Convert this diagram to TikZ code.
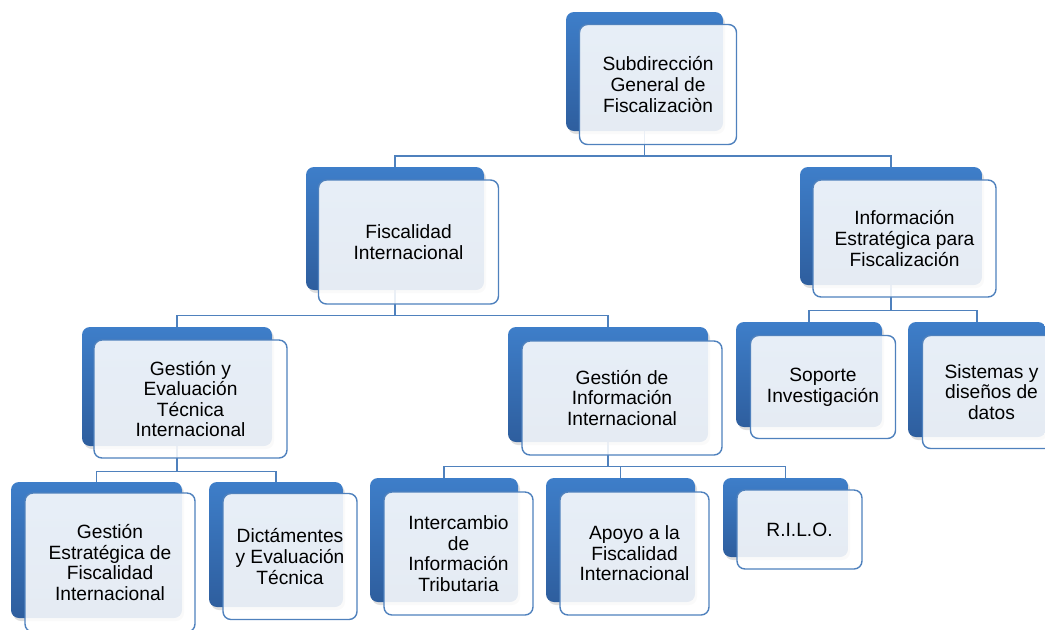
\documentclass[tikz,border=0pt]{standalone}
\usepackage{fontspec}
\setmainfont{Liberation Sans}
\usetikzlibrary{positioning,shadows,backgrounds}

\definecolor{boxblue}{RGB}{62,126,201}
\definecolor{boxdark}{RGB}{46,94,158}
\definecolor{edgeblue}{RGB}{79,129,189}

\begin{document}
\begin{tikzpicture}[x=0.5pt,y=-0.5pt,on grid,
    backbox/.style={rounded corners=4pt,top color=boxblue,bottom color=boxdark,
      drop shadow={shadow xshift=1pt,shadow yshift=-1.5pt,opacity=0.25}},
    frontbox/.style={rounded corners=4pt,draw=edgeblue,line width=0.7pt,
      fill=white,fill opacity=0.88,text opacity=1,align=center,
      font=\fontsize{9.6}{10.3}\selectfont},
    link/.style={draw=edgeblue,line width=0.7pt}]

   \useasboundingbox (0,0) rectangle (1045,629);

   % niveau 1
   \node[backbox,minimum width=78.5pt,minimum height=59.5pt] (sgf-b) at (644.5,71.5) {};
   \node[frontbox,minimum width=78.5pt,minimum height=60pt] (sgf) [below right=6.5pt and 6.75pt of sgf-b] {Subdirección\\General de\\Fiscalizaciòn};

   % niveau 2
   \node[backbox,minimum width=89pt,minimum height=61.5pt] (fi-b) at (395,228.5) {};
   \node[frontbox,minimum width=90pt,minimum height=62pt] (fi) [below right=6.75pt and 6.75pt of fi-b] {Fiscalidad\\Internacional};
   \node[backbox,minimum width=91pt,minimum height=59pt] (iepf-b) at (891,226) {};
   \node[frontbox,minimum width=91.5pt,minimum height=58.5pt] (iepf) [below right=6.25pt and 6.75pt of iepf-b] {Información\\Estratégica para\\Fiscalización};

   % niveau 3
   \node[backbox,minimum width=95pt,minimum height=59.5pt] (geti-b) at (177,386.5) {};
   \node[frontbox,minimum width=96.5pt,minimum height=59pt] (geti) [below right=6.25pt and 6.75pt of geti-b] {Gestión y\\Evaluación\\Técnica\\Internacional};
   \node[backbox,minimum width=100pt,minimum height=57.5pt] (gii-b) at (608,384.5) {};
   \node[frontbox,minimum width=100pt,minimum height=57pt] (gii) [below right=6.75pt and 7pt of gii-b] {Gestión de\\Información\\Internacional};
   \node[backbox,minimum width=73pt,minimum height=52.5pt] (si-b) at (809,374.5) {};
   \node[frontbox,minimum width=72.5pt,minimum height=51.5pt] (si) [below right=6.25pt and 7pt of si-b] {Soporte\\Investigación};
   \node[backbox,minimum width=69pt,minimum height=57.5pt] (sdd-b) at (977,379.5) {};
   \node[frontbox,minimum width=69pt,minimum height=56.5pt] (sdd) [below right=6.25pt and 7.25pt of sdd-b] {Sistemas y\\diseños de\\datos};

   % niveau 4
   \node[backbox,minimum width=85.5pt,minimum height=68pt] (gefi-b) at (96.5,550) {};
   \node[frontbox,minimum width=85pt,minimum height=69.5pt] (gefi) [below right=6.25pt and 6.75pt of gefi-b] {Gestión\\Estratégica de\\Fiscalidad\\Internacional};
   \node[backbox,minimum width=67pt,minimum height=62.5pt] (det-b) at (276,544.5) {};
   \node[frontbox,minimum width=67pt,minimum height=63pt] (det) [below right=6pt and 7pt of det-b] {Dictámentes\\y Evaluación\\Técnica};
   \node[backbox,minimum width=74pt,minimum height=62pt] (iit-b) at (444,540) {};
   \node[frontbox,minimum width=74.5pt,minimum height=61.5pt] (iit) [below right=6.75pt and 7.25pt of iit-b] {Intercambio\\de\\Información\\Tributaria};
   \node[backbox,minimum width=74.5pt,minimum height=62pt] (afi-b) at (620.5,540) {};
   \node[frontbox,minimum width=74.5pt,minimum height=61.5pt] (afi) [below right=6.75pt and 7pt of afi-b] {Apoyo a la\\Fiscalidad\\Internacional};
   \node[backbox,minimum width=62.5pt,minimum height=39.5pt] (rilo-b) at (785.5,517.5) {};
   \node[frontbox,minimum width=62.5pt,minimum height=39.5pt] (rilo) [below right=6pt and 7pt of rilo-b] {R.I.L.O.};

   % liens
   \begin{scope}[on background layer]
   \draw[link] (sgf-b.south) -- ++(0,24.5) -| (fi-b.north);
   \draw[link] (sgf-b.south) -- ++(0,24.5) -| (iepf-b.north);

   \draw[link] (fi-b.south) -- ++(0,25) -| (geti-b.north);
   \draw[link] (fi-b.south) -- ++(0,25) -| (gii-b.north);

   \draw[link] (iepf-b.south) -- ++(0,25) -| (si-b.north);
   \draw[link] (iepf-b.south) -- ++(0,25) -| (sdd-b.north);

   \draw[link] (geti-b.south) -- ++(0,25) -| (gefi-b.north);
   \draw[link] (geti-b.south) -- ++(0,25) -| (det-b.north);

   \draw[link] (gii-b.south) -- ++(0,24) -| (iit-b.north);
   \draw[link] (gii-b.south) -- ++(0,24) -| (afi-b.north);
   \draw[link] (gii-b.south) -- ++(0,24) -| (rilo-b.north);
   \end{scope}

\end{tikzpicture}
\end{document}
